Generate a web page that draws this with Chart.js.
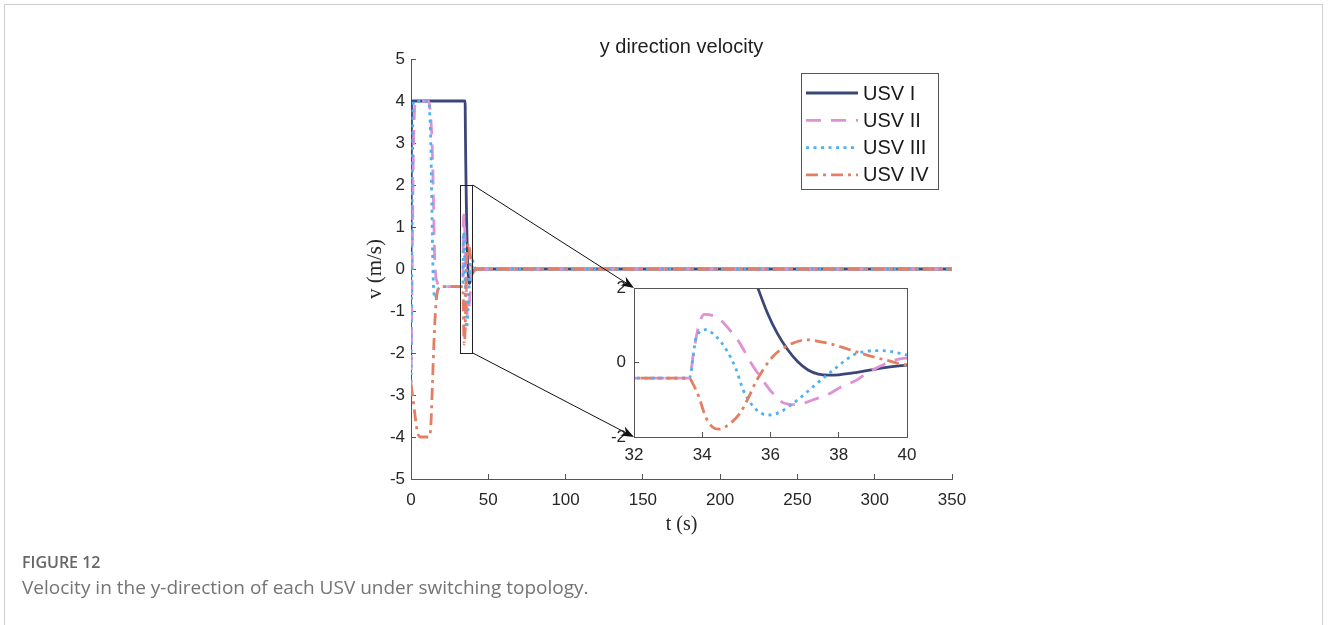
<!DOCTYPE html>
<html lang="en">
<head>
<meta charset="UTF-8">
<title>y direction velocity</title>
<script src="https://cdn.jsdelivr.net/npm/chart.js"></script>
<style>
  html, body { margin: 0; padding: 0; background: #fff; }
  body { width: 1328px; height: 625px; position: relative; overflow: hidden; }
  .frame { position: absolute; left: 4px; top: 4px; width: 1317px; height: 700px; border: 1px solid #cfcfcf; }
  canvas { position: absolute; left: 0; top: 0; }
  #inset { pointer-events: none; }
  .cap { position: absolute; left: 22px; font-family: "Open Sans", sans-serif; white-space: nowrap; line-height: 1.3; }
  #fig { top: 552px; font-size: 16px; font-weight: 600; color: #666; }
  #desc { top: 575px; font-size: 19px; color: #747474; }
</style>
</head>
<body>
<div class="frame"></div>
<canvas id="main" width="1328" height="625"></canvas>
<canvas id="inset" width="1328" height="625"></canvas>
<div class="cap" id="fig">FIGURE 12</div>
<div class="cap" id="desc">Velocity in the y-direction of each USV under switching topology.</div>

<script>
// data (t in s, v in m/s)
const labels = ['USV I', 'USV II', 'USV III', 'USV IV'];

const tUSV1 = [0, 0.4, 35.0, 35.2, 35.4, 35.63, 35.9, 36.2, 36.5, 36.8, 37.1, 37.4, 37.7, 38.0, 38.5, 39.0, 39.5, 40.0, 41.0, 43.0, 350];
const vUSV1 = [0, 4, 4, 3.3, 2.6, 2.0, 1.35, 0.78, 0.35, 0.02, -0.2, -0.31, -0.34, -0.33, -0.27, -0.19, -0.12, -0.07, -0.02, 0, 0];

const tUSV2 = [0, 0.8, 1.5, 2.2, 3.0, 4.0, 11.0, 12.0, 13.0, 14.0, 14.7, 15.3, 16.0, 17.0, 18.5, 20.0, 33.62, 33.75, 33.9, 34.06, 34.45, 34.8, 35.1, 35.4, 35.7, 36.07, 36.37, 36.76, 37.25, 37.74, 38.04, 38.53, 38.8, 39.4, 39.8, 40.2, 41.0, 43.0, 350];
const vUSV2 = [-3.0, 0.2, 2.6, 3.7, 3.97, 4.0, 4.0, 3.9, 3.5, 2.6, 1.3, 0.3, -0.15, -0.32, -0.4, -0.42, -0.42, 0.3, 1.0, 1.29, 1.2, 0.88, 0.52, 0.03, -0.38, -0.83, -1.08, -1.13, -1.0, -0.83, -0.67, -0.47, -0.3, -0.02, 0.1, 0.12, 0.05, 0, 0];

const tUSV3 = [0, 0.6, 1.2, 1.8, 11.0, 12.0, 12.8, 13.5, 14.2, 14.8, 15.5, 16.3, 17.3, 18.5, 20.0, 33.62, 33.82, 34.1, 34.4, 34.7, 35.0, 35.2, 35.6, 35.97, 36.3, 36.66, 37.0, 37.25, 37.84, 38.43, 38.8, 39.1, 39.5, 40.0, 40.5, 41.5, 43.0, 350];
const vUSV3 = [-2.7, 0.5, 3.5, 4.0, 4.0, 3.8, 3.0, 1.5, 0.0, -0.55, -0.7, -0.62, -0.5, -0.44, -0.42, -0.42, 0.66, 0.88, 0.7, 0.35, -0.2, -0.74, -1.28, -1.41, -1.32, -1.1, -0.85, -0.65, -0.2, 0.2, 0.3, 0.32, 0.3, 0.2, 0.1, 0.02, 0, 0];

const tUSV4 = [0, 1, 2, 3, 4, 5, 6, 11.5, 12.3, 13.0, 14.0, 15.0, 16.0, 17.0, 18.0, 19.0, 33.62, 33.72, 33.9, 34.1, 34.3, 34.5, 34.8, 35.1, 35.35, 35.6, 36.07, 36.4, 36.66, 37.05, 37.4, 37.84, 38.3, 38.82, 39.4, 40.0, 40.5, 41.5, 43.0, 350];
const vUSV4 = [-2.75, -3.0, -3.3, -3.6, -3.85, -3.97, -4.0, -4.0, -3.95, -3.6, -2.6, -1.6, -0.9, -0.55, -0.45, -0.42, -0.42, -0.56, -0.92, -1.46, -1.73, -1.79, -1.65, -1.37, -0.95, -0.47, 0.16, 0.4, 0.52, 0.61, 0.57, 0.48, 0.35, 0.2, 0.06, -0.06, -0.06, -0.02, 0, 0];

const xTicks = [0, 350, 50];
const yTicks = [-5, 5, 1];
const insetX = [32, 40, 2];
const insetY = [-2, 2, 2];

const times = [tUSV1, tUSV2, tUSV3, tUSV4];
const values = [vUSV1, vUSV2, vUSV3, vUSV4];
const colors = ['#3c4779', '#de92d6', '#4fb1ee', '#e47f63'];
const dashes = [[], [15, 10], [3, 4.5], [12, 5, 3, 5]];

Chart.defaults.font.family = '"Liberation Sans", Arial, sans-serif';
const AXIS = '#555555';
const TXT = '#262626';

function makeSets() {
  return labels.map((name, i) => ({
    label: name,
    data: times[i].map((t, k) => ({x: t, y: values[i][k]})),
    borderColor: colors[i],
    borderDash: dashes[i],
    borderWidth: 2.8,
    pointRadius: 0,
    fill: false,
    cubicInterpolationMode: 'monotone',
    order: 4 - i
  }));
}

function axis(range, tickPad, extra) {
  return Object.assign({
    type: 'linear',
    min: range[0],
    max: range[1],
    ticks: { stepSize: range[2], color: TXT, font: { size: 17 }, padding: tickPad },
    grid: { drawOnChartArea: false, drawTicks: true, tickLength: -5, color: AXIS },
    border: { color: AXIS, width: 1 }
  }, extra);
}

// title centred on the plot area, like the figure
const plotTitle = {
  id: 'plotTitle',
  afterDraw(chart) {
    const {ctx, chartArea} = chart;
    ctx.save();
    ctx.fillStyle = '#1e1e1e';
    ctx.font = '20px "Liberation Sans", Arial, sans-serif';
    ctx.textAlign = 'center';
    ctx.textBaseline = 'middle';
    ctx.fillText('y direction velocity', (chartArea.left + chartArea.right) / 2, chartArea.top - 12);
    ctx.restore();
  }
};

// boxed legend inside the axes, top right
const boxLegend = {
  id: 'boxLegend',
  afterDraw(chart) {
    const {ctx, chartArea} = chart;
    const left = chartArea.right - 151, top = chartArea.top + 14, w = 137, h = 116;
    ctx.save();
    ctx.fillStyle = '#fff';
    ctx.fillRect(left, top, w, h);
    ctx.strokeStyle = '#555';
    ctx.lineWidth = 1;
    ctx.strokeRect(left + 0.5, top + 0.5, w, h);
    ctx.font = '20px "Liberation Sans", Arial, sans-serif';
    ctx.textBaseline = 'middle';
    chart.data.datasets.forEach((ds, i) => {
      const y = top + 20 + i * 27.3;
      ctx.strokeStyle = ds.borderColor;
      ctx.lineWidth = 2.8;
      ctx.setLineDash(ds.borderDash);
      ctx.beginPath();
      ctx.moveTo(left + 5, y);
      ctx.lineTo(left + 57, y);
      ctx.stroke();
      ctx.setLineDash([]);
      ctx.fillStyle = '#1a1a1a';
      ctx.fillText(ds.label, left + 62, y + 1);
    });
    ctx.restore();
  }
};

// rectangle showing the zoomed region
const zoomRect = {
  id: 'zoomRect',
  afterDatasetsDraw(chart) {
    const {ctx, scales} = chart;
    const x1 = scales.x.getPixelForValue(insetX[0]), x2 = scales.x.getPixelForValue(insetX[1]);
    const y1 = scales.y.getPixelForValue(insetY[1]), y2 = scales.y.getPixelForValue(insetY[0]);
    ctx.save();
    ctx.strokeStyle = '#222';
    ctx.lineWidth = 1;
    ctx.strokeRect(Math.round(x1) + 0.5, Math.round(y1) + 0.5, Math.round(x2 - x1), Math.round(y2 - y1));
    ctx.restore();
  }
};

const mainChart = new Chart(document.getElementById('main'), {
  type: 'line',
  data: { datasets: makeSets() },
  options: {
    responsive: false,
    animation: false,
    devicePixelRatio: 1,
    layout: { padding: { left: 331, right: 376, top: 59, bottom: 86 } },
    plugins: { legend: { display: false }, tooltip: { enabled: false } },
    scales: {
      x: axis(xTicks, 16, {
        title: { display: true, text: 't (s)', color: TXT, font: { family: '"Liberation Serif", "Times New Roman", serif', size: 20 }, padding: { top: 0, bottom: 2 } },
        afterFit(s) { s.height = 60; }
      }),
      y: axis(yTicks, 11, {
        title: { display: true, text: 'v (m/s)', color: TXT, font: { family: '"Liberation Serif", "Times New Roman", serif', size: 21 }, padding: { top: 32, bottom: 0 } },
        afterFit(s) { s.width = 80; }
      })
    }
  },
  plugins: [plotTitle, zoomRect, boxLegend]
});

function arrow(ctx, x1, y1, x2, y2) {
  const a = Math.atan2(y2 - y1, x2 - x1), L = 13, W = 5;
  const c = Math.cos(a), s = Math.sin(a);
  ctx.beginPath();
  ctx.moveTo(x1, y1);
  ctx.lineTo(x2 - L * 0.7 * c, y2 - L * 0.7 * s);
  ctx.stroke();
  ctx.beginPath();
  ctx.moveTo(x2, y2);
  ctx.lineTo(x2 - L * c + W * s, y2 - L * s - W * c);
  ctx.lineTo(x2 - L * 0.7 * c, y2 - L * 0.7 * s);
  ctx.lineTo(x2 - L * c - W * s, y2 - L * s + W * c);
  ctx.closePath();
  ctx.fill();
}

// white axes box for the inset, then arrows from the zoom rectangle
const insetFrame = {
  id: 'insetFrame',
  beforeDraw(chart) {
    const {ctx, chartArea: a} = chart;
    ctx.save();
    ctx.fillStyle = '#fff';
    ctx.fillRect(a.left, a.top, a.right - a.left, a.bottom - a.top);
    ctx.restore();
  },
  afterDraw(chart) {
    const {ctx, chartArea: a} = chart;
    const sx = mainChart.scales.x, sy = mainChart.scales.y;
    ctx.save();
    ctx.strokeStyle = AXIS;
    ctx.lineWidth = 1;
    ctx.strokeRect(Math.round(a.left) + 0.5, Math.round(a.top) + 0.5, Math.round(a.right - a.left), Math.round(a.bottom - a.top));
    ctx.strokeStyle = '#111';
    ctx.fillStyle = '#111';
    const rx = sx.getPixelForValue(insetX[1]);
    arrow(ctx, rx, sy.getPixelForValue(insetY[1]), a.left, a.top);
    arrow(ctx, rx, sy.getPixelForValue(insetY[0]), a.left, a.bottom);
    ctx.restore();
  }
};

new Chart(document.getElementById('inset'), {
  type: 'line',
  data: { datasets: makeSets() },
  options: {
    responsive: false,
    animation: false,
    devicePixelRatio: 1,
    layout: { padding: { left: 604, right: 421, top: 288, bottom: 158 } },
    plugins: { legend: { display: false }, tooltip: { enabled: false } },
    scales: {
      x: axis(insetX, 13, { afterFit(s) { s.height = 30; } }),
      y: axis(insetY, 13, { afterFit(s) { s.width = 30; } })
    }
  },
  plugins: [insetFrame]
});
</script>
</body>
</html>
